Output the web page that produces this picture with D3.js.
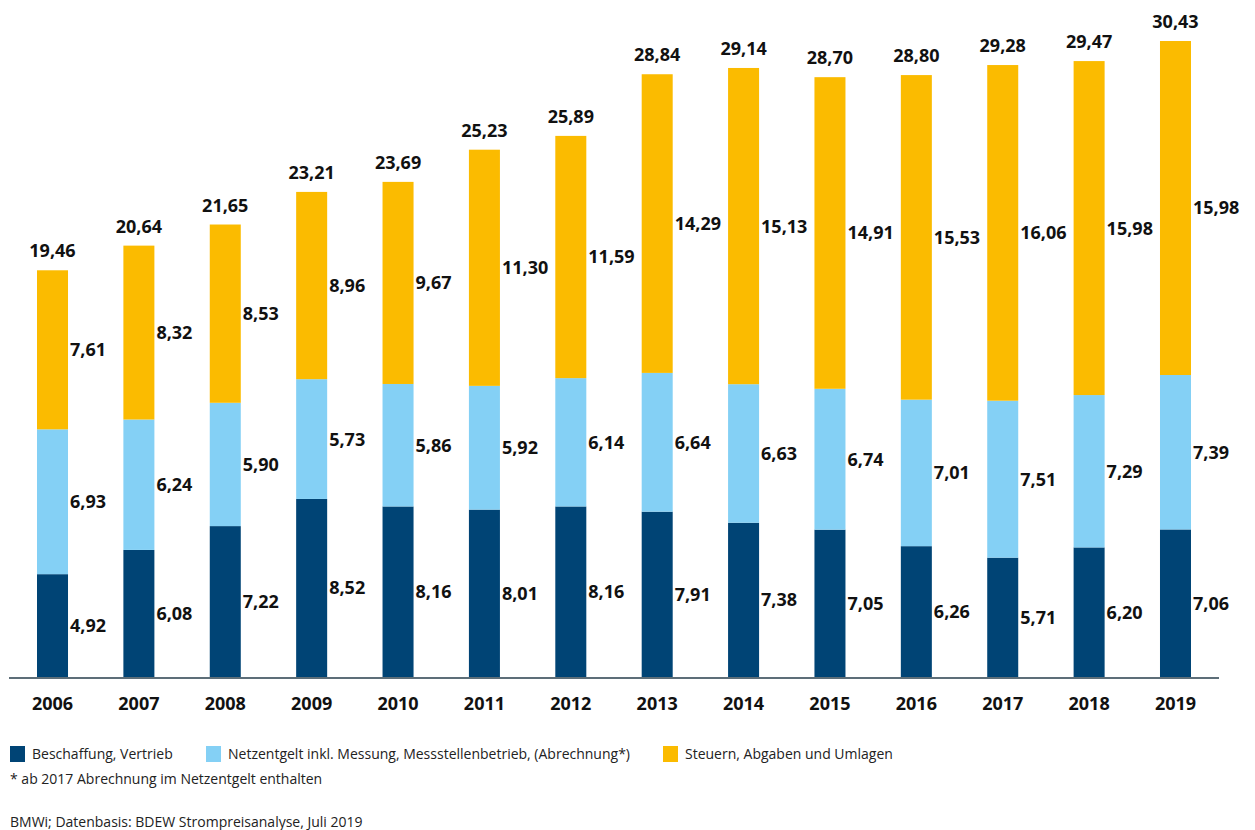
<!DOCTYPE html>
<html>
<head>
<meta charset="utf-8">
<script src="https://cdn.jsdelivr.net/npm/d3@7"></script>
<style>
  body { margin: 0; background: #fff; }
  svg { display: block; }
</style>
</head>
<body>
<svg id="chart"></svg>
<script>
// Strompreis-Bestandteile, ct/kWh
var years = ["2006", "2007", "2008", "2009", "2010", "2011", "2012", "2013", "2014", "2015", "2016", "2017", "2018", "2019"];
var beschaffung = [4.92, 6.08, 7.22, 8.52, 8.16, 8.01, 8.16, 7.91, 7.38, 7.05, 6.26, 5.71, 6.20, 7.06];
var netzentgelt = [6.93, 6.24, 5.90, 5.73, 5.86, 5.92, 6.14, 6.64, 6.63, 6.74, 7.01, 7.51, 7.29, 7.39];
var steuern = [7.61, 8.32, 8.53, 8.96, 9.67, 11.30, 11.59, 14.29, 15.13, 14.91, 15.53, 16.06, 15.98, 15.98];
var totals = [19.46, 20.64, 21.65, 23.21, 23.69, 25.23, 25.89, 28.84, 29.14, 28.70, 28.80, 29.28, 29.47, 30.43];

var seriesKeys = ["beschaffung", "netzentgelt", "steuern"];
var legendLabels = ["Beschaffung, Vertrieb", "Netzentgelt inkl. Messung, Messstellenbetrieb, (Abrechnung*)", "Steuern, Abgaben und Umlagen"];
var colors = ["#004475", "#84d0f5", "#fbbb00"];

var width = 1255, height = 830;
var baseline = 677;

var svg = d3.select("#chart")
    .attr("width", width)
    .attr("height", height);

// table for the stack layout
var table = years.map(function(y, i) {
    return { year: y, beschaffung: beschaffung[i], netzentgelt: netzentgelt[i], steuern: steuern[i] };
});
var stacked = d3.stack().keys(seriesKeys)(table);

var x = d3.scaleBand()
    .domain(years)
    .range([37, 1191])
    .paddingInner(0.641)
    .paddingOuter(0);

var y = d3.scaleLinear()
    .domain([0, 32])
    .range([baseline, baseline - 32 * 20.9]);

var fmt = function(v) { return d3.format(".2f")(v).replace(".", ","); };
var labelFont = "'Noto Sans', 'Open Sans', sans-serif";

// bars
var groups = svg.selectAll("g.layer")
    .data(stacked)
    .enter()
    .append("g")
    .attr("class", "layer")
    .attr("fill", function(d, i) { return colors[i]; });

groups.selectAll("rect")
    .data(function(d) { return d; })
    .enter()
    .append("rect")
    .attr("x", function(d) { return x(d.data.year); })
    .attr("y", function(d) { return y(d[1]); })
    .attr("width", x.bandwidth())
    .attr("height", function(d) { return y(d[0]) - y(d[1]); });

// segment values right of the bars
stacked.forEach(function(layer) {
    svg.append("g")
        .selectAll("text")
        .data(layer)
        .enter()
        .append("text")
        .attr("x", function(d) { return x(d.data.year) + x.bandwidth() + 2; })
        .attr("y", function(d) { return (y(d[0]) + y(d[1])) / 2; })
        .attr("dy", "0.36em")
        .style("font-family", labelFont)
        .style("font-weight", "bold")
        .style("font-size", "18px")
        .attr("fill", "#111")
        .text(function(d) { return fmt(d[1] - d[0]); });
});

// totals above the bars
svg.append("g")
    .selectAll("text")
    .data(totals)
    .enter()
    .append("text")
    .attr("x", function(d, i) { return x(years[i]) + x.bandwidth() / 2; })
    .attr("y", function(d, i) { return y(d3.sum(stacked, function(l) { return l[i][1] - l[i][0]; })) - 13; })
    .attr("text-anchor", "middle")
    .style("font-family", labelFont)
    .style("font-weight", "bold")
    .style("font-size", "18px")
    .attr("fill", "#111")
    .text(function(d) { return fmt(d); });

// x axis
var xAxis = svg.append("g")
    .attr("transform", "translate(0," + baseline + ")")
    .call(d3.axisBottom(x).tickSize(0).tickPadding(20));
xAxis.select(".domain").remove();
xAxis.selectAll("text")
    .style("font-family", labelFont)
    .style("font-weight", "bold")
    .style("font-size", "18px")
    .attr("fill", "#111");

svg.append("line")
    .attr("x1", 9)
    .attr("x2", 1219)
    .attr("y1", baseline + 1)
    .attr("y2", baseline + 1)
    .attr("stroke", "#5d6e78")
    .attr("stroke-width", 2.2);

// legend
var legendX = [10, 206, 663];
var legend = svg.append("g")
    .selectAll("g")
    .data(legendLabels)
    .enter()
    .append("g")
    .attr("transform", function(d, i) { return "translate(" + legendX[i] + ",746)"; });
legend.append("rect")
    .attr("width", 15)
    .attr("height", 16)
    .attr("fill", function(d, i) { return colors[i]; });
legend.append("text")
    .attr("x", 22)
    .attr("y", 13)
    .style("font-family", "'Open Sans', sans-serif")
    .style("font-size", "14px")
    .attr("fill", "#222")
    .text(function(d) { return d; });

svg.append("text")
    .attr("x", 10)
    .attr("y", 784)
    .style("font-family", "'Open Sans', sans-serif")
    .style("font-size", "14px")
    .attr("fill", "#222")
    .text("* ab 2017 Abrechnung im Netzentgelt enthalten");

svg.append("text")
    .attr("x", 10)
    .attr("y", 827)
    .style("font-family", "'Open Sans', sans-serif")
    .style("font-size", "14px")
    .attr("fill", "#222")
    .text("BMWi; Datenbasis: BDEW Strompreisanalyse, Juli 2019");
</script>
</body>
</html>
